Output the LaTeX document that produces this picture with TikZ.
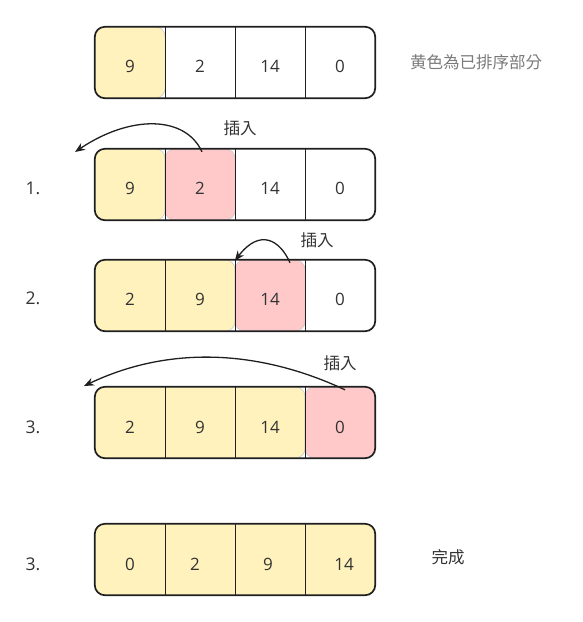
\documentclass[tikz,border=0pt]{standalone}
\usepackage{fontspec}
\setmainfont{Open Sans}
\newfontfamily\cjk{Noto Sans CJK TC}
\usetikzlibrary{arrows.meta}
\definecolor{cellyellow}{HTML}{FFF2BC}
\definecolor{cellpink}{HTML}{FFC9CA}
\definecolor{cellrim}{HTML}{C8C8C8}
\definecolor{txt}{HTML}{333333}
\definecolor{soft}{HTML}{7A7A7A}
\tikzset{
  cell/.style={rectangle, minimum width=70pt, minimum height=71pt, inner sep=0pt},
  frame/.style={draw=black!88, line width=1.7pt, rounded corners=10pt},
  divider/.style={draw=black!88, line width=1.4pt},
  hlyellow/.style={fill=cellyellow, draw=cellrim, line width=0.6pt, rounded corners=10pt},
  hlpink/.style={fill=cellpink, draw=cellrim, line width=0.6pt, rounded corners=10pt},
  num/.style={font=\fontsize{17}{19}\selectfont, text=txt, inner sep=0pt},
  steplabel/.style={font=\fontsize{17.5}{20}\selectfont, text=txt},
  note/.style={font=\cjk\fontsize{16.5}{19}\selectfont, text=txt},
  insarrow/.style={draw=black!88, line width=1.3pt, -{Stealth[length=10pt,width=8pt]}},
}
\begin{document}
\begin{tikzpicture}[x=1pt, y=-1pt]
\useasboundingbox (0,0) rectangle (583,622);
% cell grid: rows r0..r4, columns c1..c4
\foreach \r/\yy in {0/62.5, 1/184.5, 2/295.5, 3/422.5, 4/559.5} {
  \foreach \c/\xx in {1/130, 2/200, 3/270, 4/340} {
    \node[cell] (r\r c\c) at (\xx,\yy) {};
  }
}
% highlighted regions
\draw[hlyellow] (r0c1.north west) rectangle (r0c1.south east);
\draw[hlyellow] (r1c1.north west) rectangle (r1c1.south east);
\draw[hlpink]   (r1c2.north west) rectangle (r1c2.south east);
\draw[hlyellow] (r2c1.north west) rectangle (r2c2.south east);
\draw[hlpink]   (r2c3.north west) rectangle (r2c3.south east);
\draw[hlyellow] (r3c1.north west) rectangle (r3c3.south east);
\draw[hlpink]   (r3c4.north west) rectangle (r3c4.south east);
\draw[hlyellow] (r4c1.north west) rectangle (r4c4.south east);
% frames and dividers
\foreach \r in {0,...,4} {
  \draw[frame] (r\r c1.north west) rectangle (r\r c4.south east);
  \foreach \c in {1,2,3} {
    \draw[divider] (r\r c\c.north east) -- (r\r c\c.south east);
  }
}
% numbers
\node[num] at ([yshift=-3.5pt]r0c1) {9};
\node[num] at ([yshift=-3.5pt]r0c2) {2};
\node[num] at ([yshift=-3.5pt]r0c3) {14};
\node[num] at ([yshift=-3.5pt]r0c4) {0};
\node[num] at ([yshift=-3.5pt]r1c1) {9};
\node[num] at ([yshift=-3.5pt]r1c2) {2};
\node[num] at ([yshift=-3.5pt]r1c3) {14};
\node[num] at ([yshift=-3.5pt]r1c4) {0};
\node[num] at ([yshift=-4pt]r2c1) {2};
\node[num] at ([yshift=-4pt]r2c2) {9};
\node[num] at ([yshift=-4pt]r2c3) {14};
\node[num] at ([yshift=-4pt]r2c4) {0};
\node[num] at ([yshift=-5pt]r3c1) {2};
\node[num] at ([yshift=-5pt]r3c2) {9};
\node[num] at ([yshift=-5pt]r3c3) {14};
\node[num] at ([yshift=-5pt]r3c4) {0};
\node[num] at ([yshift=-5pt]r4c1) {0};
\node[num] at ([xshift=-5pt,yshift=-5pt]r4c2) {2};
\node[num] at ([xshift=-2pt,yshift=-5pt]r4c3) {9};
\node[num] at ([xshift=4pt,yshift=-5pt]r4c4) {14};
% step labels
\node[steplabel] (s1) at (33,188) {1.};
\node[steplabel] (s2) at (33,298) {2.};
\node[steplabel] (s3) at (33,427) {3.};
\node[steplabel] (s4) at (33,564) {3.};
% notes
\node[note, text=soft] (legend) at (476,62) {黄色為已排序部分};
\node[note] (ins1) at (240,128) {插入};
\node[note] (ins2) at (317,240) {插入};
\node[note] (ins3) at (340,363) {插入};
\node[note] (done) at (448,557) {完成};
% insertion arrows
\coordinate (e1) at (75,152);
\coordinate (e3) at (84,386);
\draw[insarrow] ([xshift=2pt,yshift=-3pt]r1c2.north) .. controls (185,115) and (130,115) .. (e1);
\draw[insarrow] ([xshift=20pt,yshift=-3pt]r2c3.north) .. controls (280,240) and (260,228) .. ([yshift=-1pt]r2c3.north west);
\draw[insarrow] ([xshift=5pt,yshift=-3pt]r3c4.north) .. controls (260,350) and (170,345) .. (e3);
\end{tikzpicture}
\end{document}
